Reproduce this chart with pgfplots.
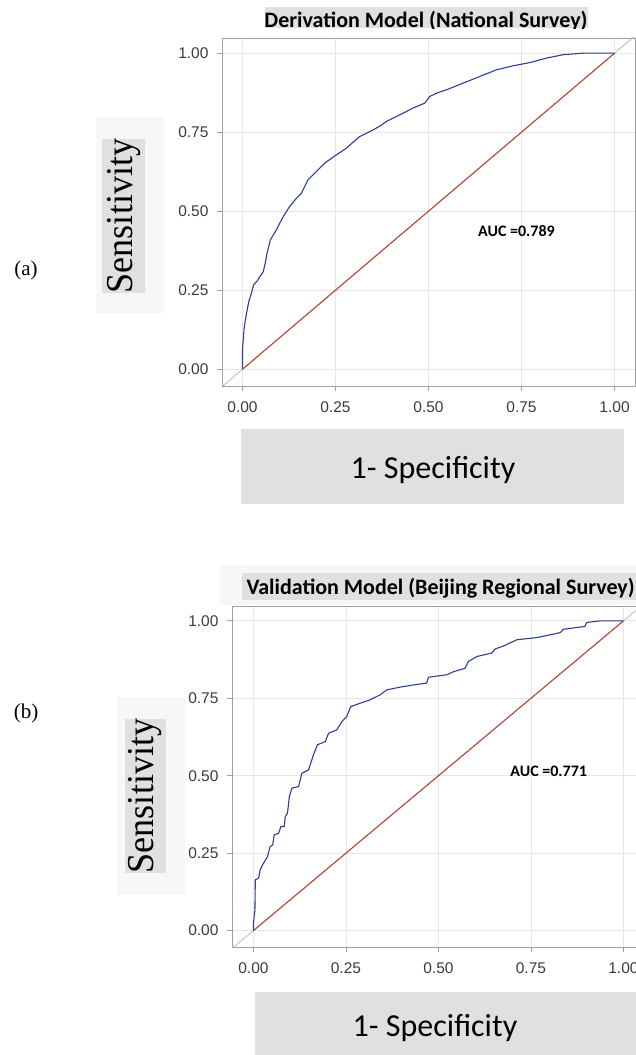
\documentclass[border=0pt]{standalone}
\usepackage{pgfplots}
\pgfplotsset{compat=1.18}
\usepackage{fontspec}
\setmainfont{Liberation Serif}
\newfontfamily\calibri{Carlito}
\newfontfamily\arial{Liberation Sans}

\definecolor{rocblue}{HTML}{2B3F95}
\definecolor{rocred}{HTML}{B84A35}
\definecolor{boxgray}{HTML}{E0E0E0}
\definecolor{palegray}{HTML}{F7F7F7}
\definecolor{gridgray}{HTML}{E6E6E6}
\definecolor{framegray}{HTML}{A0A0A0}
\definecolor{ticktext}{HTML}{3A3A3A}

\pgfplotsset{
  rocaxis/.style={
    scale only axis,
    anchor=south west,
    xtick={0,0.25,0.5,0.75,1},
    ytick={0,0.25,0.5,0.75,1},
    grid=major,
    grid style={gridgray, line width=0.8pt},
    axis line style={framegray, line width=0.9pt},
    tick style={framegray, line width=0.8pt},
    tick align=outside,
    major tick length=5pt,
    xtick pos=bottom, ytick pos=left,
    tick label style={font=\arial\fontsize{15.5}{17}\selectfont, text=ticktext},
    yticklabel style={xshift=-5pt},
    xticklabel style={yshift=-7pt},
    /pgf/number format/assume math mode=true,
    /pgf/number format/.cd, fixed, fixed zerofill, precision=2,
  },
}

\begin{document}
\begin{tikzpicture}[x=1pt,y=1pt]
\useasboundingbox (0,0) rectangle (636,1055);

% ---------- panel (a) ----------
\node[font=\fontsize{21}{23}\selectfont] at (26,785) {(a)};
\fill[palegray] (96,742) rectangle (164,938);
\fill[boxgray] (102,762) rectangle (145,916);
\node[rotate=90] at (124,839) {\scalebox{0.95}[1]{\fontsize{38}{38}\selectfont Sensitivity}};

\begin{scope}
\clip (0,1026) rectangle (636,1055);
\fill[boxgray] (265,1027) rectangle (588,1048);
\node[anchor=base, font=\calibri\bfseries\fontsize{22}{24}\selectfont] at (426,1027) {Derivation Model (National Survey)};
\end{scope}

\begin{axis}[rocaxis, at={(222pt,669pt)}, width=413pt, height=348pt,
  xmin=-0.055, xmax=1.055, ymin=-0.053, ymax=1.048]
\addplot[gray!55, line width=0.8pt] coordinates {(-0.06,-0.06) (1.06,1.06)};
\addplot[rocred, line width=1.1pt] coordinates {(0,0) (1,1)};
\addplot[rocblue, line width=1.1pt] coordinates {
(0,0) (0,0.061) (0.004,0.124) (0.007,0.15) (0.011,0.177) (0.017,0.214) (0.024,0.24)
(0.030,0.267) (0.040,0.280) (0.047,0.293) (0.056,0.309) (0.062,0.340) (0.066,0.367)
(0.075,0.409) (0.083,0.425) (0.091,0.441) (0.105,0.473) (0.116,0.495) (0.127,0.515)
(0.145,0.541) (0.158,0.556) (0.167,0.578) (0.176,0.599) (0.199,0.626) (0.221,0.652)
(0.252,0.678) (0.279,0.699) (0.297,0.718) (0.315,0.736) (0.351,0.757) (0.370,0.770)
(0.387,0.784) (0.423,0.805) (0.458,0.826) (0.490,0.842) (0.503,0.863) (0.525,0.875)
(0.548,0.884) (0.593,0.905) (0.637,0.926) (0.682,0.947) (0.727,0.960) (0.772,0.970)
(0.816,0.984) (0.861,0.995) (0.915,1.0) (1,1)};
\node[anchor=west, inner sep=0pt, font=\calibri\bfseries\fontsize{16}{18}\selectfont] at (axis cs:0.633,0.438) {AUC =0.789};
\end{axis}

\fill[boxgray] (241,551) rectangle (624,626);
\node[font=\calibri\fontsize{32}{34}\selectfont] at (433,585) {1- Specificity};

% ---------- panel (b) ----------
\node[font=\fontsize{21}{23}\selectfont] at (26,342) {(b)};
\fill[palegray] (117,160) rectangle (185,358);
\fill[boxgray] (125,182) rectangle (166,336);
\node[rotate=90] at (145.5,259) {\scalebox{0.95}[1]{\fontsize{38}{38}\selectfont Sensitivity}};

\fill[palegray] (220,450) rectangle (636,490);
\fill[boxgray] (242,455) rectangle (636,482);
\node[anchor=base west, font=\calibri\bfseries\fontsize{22}{24}\selectfont] at (243,460) {Validation Model (Beijing Regional Survey)};

\begin{axis}[rocaxis, at={(232pt,108pt)}, width=411.8pt, height=341pt,
  xmin=-0.058, xmax=1.055, ymin=-0.053, ymax=1.048]
\addplot[gray!55, line width=0.8pt] coordinates {(-0.06,-0.06) (1.06,1.06)};
\addplot[rocred, line width=1.1pt] coordinates {(0,0) (1,1)};
\addplot[rocblue, line width=1.1pt] coordinates {
(0,0) (0,0.024) (0.004,0.067) (0.005,0.164) (0.014,0.169) (0.018,0.196) (0.027,0.217)
(0.038,0.239) (0.045,0.271) (0.052,0.277) (0.056,0.309) (0.068,0.314) (0.074,0.336)
(0.083,0.336) (0.086,0.368) (0.092,0.379) (0.097,0.433) (0.104,0.460) (0.122,0.465)
(0.131,0.508) (0.149,0.519) (0.162,0.567) (0.173,0.600) (0.194,0.610) (0.203,0.637)
(0.225,0.648) (0.239,0.675) (0.252,0.691) (0.263,0.723) (0.288,0.734) (0.315,0.745)
(0.342,0.761) (0.360,0.777) (0.396,0.786) (0.432,0.793) (0.468,0.799) (0.473,0.818)
(0.523,0.826) (0.541,0.836) (0.572,0.847) (0.581,0.869) (0.604,0.885) (0.644,0.896)
(0.653,0.909) (0.676,0.919) (0.712,0.939) (0.766,0.946) (0.802,0.955) (0.829,0.962)
(0.838,0.973) (0.896,0.982) (0.901,0.995) (0.937,1.0) (1,1)};
\node[anchor=west, inner sep=0pt, font=\calibri\bfseries\fontsize{16}{18}\selectfont] at (axis cs:0.694,0.513) {AUC =0.771};
\end{axis}

\fill[boxgray] (255,0) rectangle (636,63);
\node[font=\calibri\fontsize{32}{34}\selectfont] at (435,27) {1- Specificity};
\end{tikzpicture}
\end{document}
